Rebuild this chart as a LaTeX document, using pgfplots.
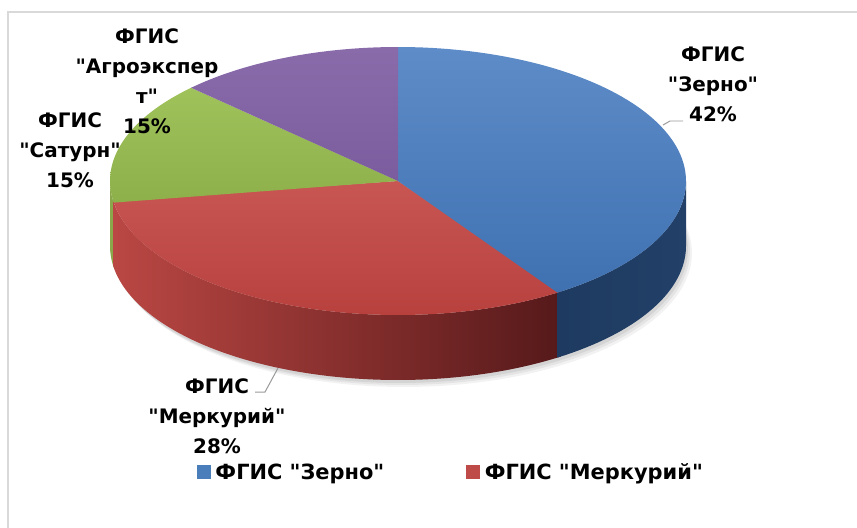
\documentclass[border=0pt]{standalone}
\usepackage{fontspec}
\setmainfont{DejaVu Sans}[Ligatures=TeXOff]
\usepackage{pgfplots}
\pgfplotsset{compat=1.18}
\definecolor{bTopA}{HTML}{5E8CC8}
\definecolor{bTopB}{HTML}{3F71B1}
\definecolor{rTopA}{HTML}{C85653}
\definecolor{rTopB}{HTML}{B8413E}
\definecolor{gTopA}{HTML}{A0C25B}
\definecolor{gTopB}{HTML}{8EB04B}
\definecolor{pTopA}{HTML}{8A6BAA}
\definecolor{pTopB}{HTML}{7B5C9E}
\definecolor{bSideA}{HTML}{1E3A60}
\definecolor{bSideB}{HTML}{224068}
\definecolor{rSideA}{HTML}{BA4743}
\definecolor{rSideB}{HTML}{56191A}
\definecolor{gSide}{HTML}{8AA84B}
\definecolor{legBlue}{HTML}{4A7EBB}
\definecolor{legRed}{HTML}{BE4B48}
\def\cx{398}\def\cy{181}\def\rx{288}\def\ry{134}\def\dep{65}
% visible side wall of a slice between ellipse angles #1 and #2
% t in [0,1]: top rim from #1 to #2; t in [1.01,2.01]: bottom rim back from #2 to #1
\newcommand{\sidewall}[3]{%
\addplot[forget plot, draw=none, #3, variable=\t, domain=0:2.02, samples=203]
 ({\cx+\rx*cos(ifthenelse(\t<1.005,(#1)+((#2)-(#1))*min(\t,1),(#2)+((#1)-(#2))*min(max(\t-1.01,0),1)))},
  {\cy-\ry*sin(ifthenelse(\t<1.005,(#1)+((#2)-(#1))*min(\t,1),(#2)+((#1)-(#2))*min(max(\t-1.01,0),1)))+ifthenelse(\t<1.005,0,\dep)});}
% top face of a slice between ellipse angles #1 and #2
\newcommand{\topface}[3]{%
\addplot[forget plot, draw=none, #3, domain=#1:#2, samples=90]
 ({\cx+\rx*cos(x)},{\cy-\ry*sin(x)}) -- (axis cs:\cx,\cy) -- cycle;}
% shadow ellipse
\newcommand{\shadowell}[3]{%
\addplot[forget plot, draw=none, fill=black, fill opacity=#3, domain=0:360, samples=120]
 ({\cx+#1+\rx*cos(x)},{\cy+\dep+#2-\ry*sin(x)}) -- cycle;}
\tikzset{lab/.style={align=center, font=\bfseries\fontsize{20}{30}\selectfont}}
\begin{document}
\begin{tikzpicture}
% data (percent)
\def\vA{42}\def\vB{28}\def\vC{15}\def\vD{15}
\pgfmathsetmacro\tA{90}
\pgfmathsetmacro\tB{\tA-3.6*\vA}
\pgfmathsetmacro\tC{\tB-3.6*\vB}
\pgfmathsetmacro\tD{\tC-3.6*\vC}
\pgfmathsetmacro\tE{\tD-3.6*\vD}
% perspective: projected angle
\pgfmathsetmacro\pA{\tA}
\pgfmathsetmacro\pB{\tB+10*cos(\tB)}
\pgfmathsetmacro\pC{\tC+10*cos(\tC)}
\pgfmathsetmacro\pD{\tD+10*cos(\tD)}
\pgfmathsetmacro\pE{\tE}
\pgfmathsetmacro\pBo{\pB+0.8}
\pgfmathsetmacro\pCo{\pC+0.8}
\begin{axis}[
  scale only axis, width=857bp, height=528bp,
  xmin=0, xmax=857, ymin=0, ymax=528, y dir=reverse,
  hide axis, clip=false,
  legend columns=2,
  legend style={at={(axis cs:451,472)}, anchor=center, draw=none, fill=none,
    font=\bfseries\fontsize{21}{24}\selectfont,
    /tikz/every even column/.append style={column sep=80bp}},
]
\coordinate (bbA) at (axis cs:0,528);
\coordinate (bbB) at (axis cs:857,0);
% frame
\addplot[forget plot, color=black!15, line width=1.3pt] coordinates {(8,528) (8,12) (857,12)};
% shadow
\shadowell{2}{3}{0.07}
\shadowell{4}{5}{0.06}
\shadowell{6}{7}{0.05}
% side walls
\sidewall{-180}{\pCo}{fill=gSide}
\sidewall{\pC}{\pBo}{left color=rSideA, right color=rSideB}
\sidewall{\pB}{0}{left color=bSideA, right color=bSideB}
% top faces
\topface{\pC}{\pBo}{top color=rTopA, bottom color=rTopB}
\topface{\pB}{\pA}{top color=bTopA, bottom color=bTopB}
\topface{\pD}{\pCo}{top color=gTopA, bottom color=gTopB}
\topface{\pE}{\pD}{top color=pTopA, bottom color=pTopB}
% leader lines
\addplot[forget plot, color=black!40, line width=1pt] coordinates {(663,125) (670,121) (683,121)};
\addplot[forget plot, color=black!40, line width=1pt] coordinates {(255,392) (265,392) (278,368)};
% labels
\node[lab] at (axis cs:713,84) {ФГИС\\"Зерно"\\42\%};
\node[lab] at (axis cs:147,81) {ФГИС\\"Агроэкспер\\т"\\15\%};
\node[lab] at (axis cs:70,150) {ФГИС\\"Сатурн"\\15\%};
\node[lab] at (axis cs:217,416) {ФГИС\\"Меркурий"\\28\%};
% legend
\addlegendimage{legend image code/.code={\fill[legBlue] (0bp,-6.5bp) rectangle (13bp,6.5bp); \path (16bp,0bp);}}
\addlegendentry{ФГИС "Зерно"}
\addlegendimage{legend image code/.code={\fill[legRed] (0bp,-6.5bp) rectangle (13bp,6.5bp); \path (16bp,0bp);}}
\addlegendentry{ФГИС "Меркурий"}
\end{axis}
\pgfresetboundingbox
\path (bbA) rectangle (bbB);
\end{tikzpicture}
\end{document}
